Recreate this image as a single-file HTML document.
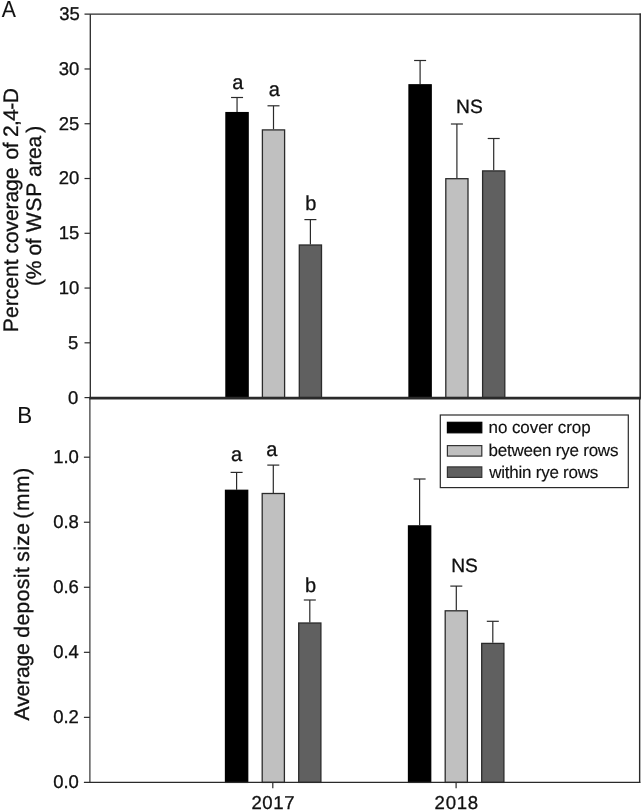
<!DOCTYPE html>
<html><head><meta charset="utf-8"><title>Figure</title>
<style>
html,body{margin:0;padding:0;background:#fff;}
#fig{width:643px;height:812px;overflow:hidden;will-change:transform;transform:translateZ(0);}
svg{display:block;filter:grayscale(1);}
text{font-family:"Liberation Sans", sans-serif;fill:#111;stroke:#111;stroke-width:0.3px;text-rendering:geometricPrecision;}
</style></head><body>
<div id="fig"><svg width="643" height="812" viewBox="0 0 643 812">
<rect x="0" y="0" width="643" height="812" fill="#fff"/>
<line x1="237.05" y1="97.50" x2="237.05" y2="112.00" stroke="#2a2a2a" stroke-width="1.2"/>
<line x1="231.05" y1="97.50" x2="243.05" y2="97.50" stroke="#2a2a2a" stroke-width="1.2"/>
<rect x="225.95" y="112.60" width="22.20" height="285.00" fill="#000000" stroke="#000" stroke-width="1.3"/>
<line x1="273.50" y1="105.80" x2="273.50" y2="129.30" stroke="#2a2a2a" stroke-width="1.2"/>
<line x1="267.50" y1="105.80" x2="279.50" y2="105.80" stroke="#2a2a2a" stroke-width="1.2"/>
<rect x="262.40" y="129.90" width="22.20" height="267.70" fill="#c0c0c0" stroke="#2b2b2b" stroke-width="1.3"/>
<line x1="310.40" y1="219.60" x2="310.40" y2="244.40" stroke="#2a2a2a" stroke-width="1.2"/>
<line x1="304.40" y1="219.60" x2="316.40" y2="219.60" stroke="#2a2a2a" stroke-width="1.2"/>
<rect x="299.30" y="245.00" width="22.20" height="152.60" fill="#606060" stroke="#2b2b2b" stroke-width="1.3"/>
<line x1="420.10" y1="60.50" x2="420.10" y2="84.20" stroke="#2a2a2a" stroke-width="1.2"/>
<line x1="414.10" y1="60.50" x2="426.10" y2="60.50" stroke="#2a2a2a" stroke-width="1.2"/>
<rect x="409.00" y="84.80" width="22.20" height="312.80" fill="#000000" stroke="#000" stroke-width="1.3"/>
<line x1="456.90" y1="124.00" x2="456.90" y2="178.10" stroke="#2a2a2a" stroke-width="1.2"/>
<line x1="450.90" y1="124.00" x2="462.90" y2="124.00" stroke="#2a2a2a" stroke-width="1.2"/>
<rect x="445.80" y="178.70" width="22.20" height="218.90" fill="#c0c0c0" stroke="#2b2b2b" stroke-width="1.3"/>
<line x1="493.70" y1="138.50" x2="493.70" y2="170.30" stroke="#2a2a2a" stroke-width="1.2"/>
<line x1="487.70" y1="138.50" x2="499.70" y2="138.50" stroke="#2a2a2a" stroke-width="1.2"/>
<rect x="482.60" y="170.90" width="22.20" height="226.70" fill="#606060" stroke="#2b2b2b" stroke-width="1.3"/>
<line x1="236.60" y1="472.40" x2="236.60" y2="489.70" stroke="#2a2a2a" stroke-width="1.2"/>
<line x1="230.60" y1="472.40" x2="242.60" y2="472.40" stroke="#2a2a2a" stroke-width="1.2"/>
<rect x="225.50" y="490.30" width="22.20" height="292.10" fill="#000000" stroke="#000" stroke-width="1.3"/>
<line x1="273.30" y1="465.10" x2="273.30" y2="492.90" stroke="#2a2a2a" stroke-width="1.2"/>
<line x1="267.30" y1="465.10" x2="279.30" y2="465.10" stroke="#2a2a2a" stroke-width="1.2"/>
<rect x="262.20" y="493.50" width="22.20" height="288.90" fill="#c0c0c0" stroke="#2b2b2b" stroke-width="1.3"/>
<line x1="309.80" y1="600.00" x2="309.80" y2="622.40" stroke="#2a2a2a" stroke-width="1.2"/>
<line x1="303.80" y1="600.00" x2="315.80" y2="600.00" stroke="#2a2a2a" stroke-width="1.2"/>
<rect x="298.70" y="623.00" width="22.20" height="159.40" fill="#606060" stroke="#2b2b2b" stroke-width="1.3"/>
<line x1="419.60" y1="479.00" x2="419.60" y2="525.30" stroke="#2a2a2a" stroke-width="1.2"/>
<line x1="413.60" y1="479.00" x2="425.60" y2="479.00" stroke="#2a2a2a" stroke-width="1.2"/>
<rect x="408.50" y="525.90" width="22.20" height="256.50" fill="#000000" stroke="#000" stroke-width="1.3"/>
<line x1="456.30" y1="586.10" x2="456.30" y2="610.20" stroke="#2a2a2a" stroke-width="1.2"/>
<line x1="450.30" y1="586.10" x2="462.30" y2="586.10" stroke="#2a2a2a" stroke-width="1.2"/>
<rect x="445.20" y="610.80" width="22.20" height="171.60" fill="#c0c0c0" stroke="#2b2b2b" stroke-width="1.3"/>
<line x1="492.80" y1="621.30" x2="492.80" y2="642.80" stroke="#2a2a2a" stroke-width="1.2"/>
<line x1="486.80" y1="621.30" x2="498.80" y2="621.30" stroke="#2a2a2a" stroke-width="1.2"/>
<rect x="481.70" y="643.40" width="22.20" height="139.00" fill="#606060" stroke="#2b2b2b" stroke-width="1.3"/>
<line x1="90.3" y1="14.2" x2="90.3" y2="398.15" stroke="#2a2a2a" stroke-width="1.3"/>
<line x1="89.9" y1="398.15" x2="89.9" y2="782.4" stroke="#2a2a2a" stroke-width="1.15"/>
<line x1="84.5" y1="14.2" x2="640.9" y2="14.2" stroke="#2a2a2a" stroke-width="1.3"/>
<line x1="640.2" y1="13.549999999999999" x2="640.2" y2="398.15" stroke="#2a2a2a" stroke-width="1.5"/>
<line x1="639.65" y1="398.15" x2="639.65" y2="783.05" stroke="#2a2a2a" stroke-width="1.4"/>
<line x1="89.30000000000001" y1="398.15" x2="640.9" y2="398.15" stroke="#2a2a2a" stroke-width="2.8"/>
<line x1="83.9" y1="782.3" x2="640.3" y2="782.3" stroke="#2a2a2a" stroke-width="1.3"/>
<line x1="84.5" y1="397.60" x2="90.3" y2="397.60" stroke="#2a2a2a" stroke-width="1.2"/>
<line x1="84.5" y1="342.83" x2="90.3" y2="342.83" stroke="#2a2a2a" stroke-width="1.2"/>
<line x1="84.5" y1="288.06" x2="90.3" y2="288.06" stroke="#2a2a2a" stroke-width="1.2"/>
<line x1="84.5" y1="233.29" x2="90.3" y2="233.29" stroke="#2a2a2a" stroke-width="1.2"/>
<line x1="84.5" y1="178.51" x2="90.3" y2="178.51" stroke="#2a2a2a" stroke-width="1.2"/>
<line x1="84.5" y1="123.74" x2="90.3" y2="123.74" stroke="#2a2a2a" stroke-width="1.2"/>
<line x1="84.5" y1="68.97" x2="90.3" y2="68.97" stroke="#2a2a2a" stroke-width="1.2"/>
<line x1="83.9" y1="717.36" x2="89.9" y2="717.36" stroke="#2a2a2a" stroke-width="1.2"/>
<line x1="83.9" y1="652.32" x2="89.9" y2="652.32" stroke="#2a2a2a" stroke-width="1.2"/>
<line x1="83.9" y1="587.28" x2="89.9" y2="587.28" stroke="#2a2a2a" stroke-width="1.2"/>
<line x1="83.9" y1="522.24" x2="89.9" y2="522.24" stroke="#2a2a2a" stroke-width="1.2"/>
<line x1="83.9" y1="457.20" x2="89.9" y2="457.20" stroke="#2a2a2a" stroke-width="1.2"/>
<line x1="272.8" y1="782.4" x2="272.8" y2="788.2" stroke="#2a2a2a" stroke-width="1.2"/>
<line x1="456.1" y1="782.4" x2="456.1" y2="788.2" stroke="#2a2a2a" stroke-width="1.2"/>
<text x="78.3" y="403.50" font-size="18.5" text-anchor="end" >0</text>
<text x="78.3" y="348.73" font-size="18.5" text-anchor="end" >5</text>
<text x="79.3" y="293.96" font-size="18.5" text-anchor="end" >10</text>
<text x="79.3" y="239.19" font-size="18.5" text-anchor="end" >15</text>
<text x="79.3" y="184.41" font-size="18.5" text-anchor="end" >20</text>
<text x="79.3" y="129.64" font-size="18.5" text-anchor="end" >25</text>
<text x="79.3" y="74.87" font-size="18.5" text-anchor="end" >30</text>
<text x="79.9" y="20.10" font-size="18.5" text-anchor="end" >35</text>
<text x="78.9" y="788.30" font-size="18.5" text-anchor="end" >0.0</text>
<text x="78.9" y="723.26" font-size="18.5" text-anchor="end" >0.2</text>
<text x="78.9" y="658.22" font-size="18.5" text-anchor="end" >0.4</text>
<text x="78.9" y="593.18" font-size="18.5" text-anchor="end" >0.6</text>
<text x="78.9" y="528.14" font-size="18.5" text-anchor="end" >0.8</text>
<text x="78.9" y="463.10" font-size="18.5" text-anchor="end" >1.0</text>
<text x="273.3" y="809.1" font-size="18.6" text-anchor="middle" letter-spacing="0.6">2017</text>
<text x="456.7" y="809.1" font-size="18.6" text-anchor="middle" letter-spacing="0.7">2018</text>
<text transform="translate(1.75,17.45) scale(0.91,1)" font-size="23.3" style="stroke-width:0.1px">A</text>
<text transform="translate(17.3,422.65) scale(0.96,1)" font-size="23.3" style="stroke-width:0.1px">B</text>
<text x="237.7" y="88.9" font-size="20" text-anchor="middle" >a</text>
<text x="274.2" y="96.2" font-size="20" text-anchor="middle" >a</text>
<text x="310.9" y="210.4" font-size="20" text-anchor="middle" >b</text>
<text x="469.4" y="112.8" font-size="19.2" text-anchor="middle" >NS</text>
<text x="236.5" y="460.9" font-size="20" text-anchor="middle" >a</text>
<text x="271.8" y="456.4" font-size="20" text-anchor="middle" >a</text>
<text x="310.6" y="591.6" font-size="20" text-anchor="middle" >b</text>
<text x="464.6" y="572.3" font-size="19.2" text-anchor="middle" >NS</text>
<text transform="translate(18.4,332.2) rotate(-90)" font-size="21" letter-spacing="0.083">Percent</text>
<text transform="translate(18.4,253.55) rotate(-90)" font-size="21" letter-spacing="-0.064">coverage</text>
<text transform="translate(18.4,159.57) rotate(-90)" font-size="21" letter-spacing="-0.3">of</text>
<text transform="translate(18.4,137.05) rotate(-90)" font-size="21" letter-spacing="-0.6">2,4-D</text>
<text transform="translate(40.8,285.92) rotate(-90)" font-size="21" letter-spacing="-0.3">(%</text>
<text transform="translate(40.8,255.58) rotate(-90)" font-size="21" letter-spacing="-0.3">of</text>
<text transform="translate(40.8,232.2) rotate(-90)" font-size="21" letter-spacing="0.8">WSP</text>
<text transform="translate(40.8,176.95) rotate(-90)" font-size="21" letter-spacing="-0.333">area</text>
<text transform="translate(40.8,132.78) rotate(-90)" font-size="21" letter-spacing="0.0">)</text>
<text transform="translate(28.9,720.38) rotate(-90)" font-size="21" letter-spacing="-0.117">Average</text>
<text transform="translate(28.9,637.72) rotate(-90)" font-size="21" letter-spacing="0.467">deposit</text>
<text transform="translate(28.9,561.75) rotate(-90)" font-size="21" letter-spacing="0.467">size</text>
<text transform="translate(28.9,518.7) rotate(-90)" font-size="21" letter-spacing="0.633">(mm)</text>
<rect x="440.3" y="415.0" width="188.0" height="72.6" fill="#fff" stroke="#2a2a2a" stroke-width="1.2"/>
<rect x="447.4" y="422.3" width="34.4" height="10.5" fill="#000000" stroke="#000" stroke-width="1.2"/>
<rect x="447.4" y="445.6" width="34.4" height="10.5" fill="#c0c0c0" stroke="#333" stroke-width="1.2"/>
<rect x="447.4" y="466.90000000000003" width="34.4" height="10.5" fill="#606060" stroke="#333" stroke-width="1.2"/>
<text x="488.5" y="432.9" font-size="17" text-anchor="start" letter-spacing="-0.07" style="stroke-width:0.15px">no cover crop</text>
<text x="488.5" y="456.3" font-size="17" text-anchor="start" letter-spacing="-0.22" style="stroke-width:0.15px">between rye rows</text>
<text x="489.3" y="477.6" font-size="17" text-anchor="start" letter-spacing="-0.25" style="stroke-width:0.15px">within rye rows</text>
</svg></div>
</body></html>
